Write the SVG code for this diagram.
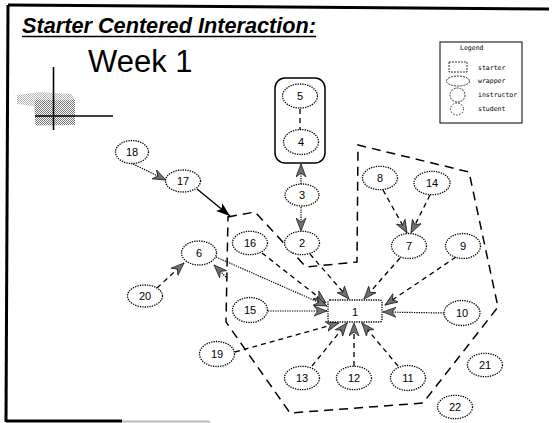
<svg xmlns="http://www.w3.org/2000/svg" width="559" height="423" viewBox="0 0 559 423">
<style>
.node{fill:#fff;stroke:#000;stroke-width:1.3;stroke-dasharray:1.3 1.1}
.lbl{font-family:"Liberation Sans",Arial,sans-serif;font-size:11px;text-anchor:middle;fill:#000}
.dash{stroke:#000;stroke-width:1.3;stroke-dasharray:5 4;fill:none}
.dot{stroke:#000;stroke-width:1.2;stroke-dasharray:1.3 1.1;fill:none}
.poly{stroke:#000;stroke-width:1.5;stroke-dasharray:9 6;fill:none}
.leg{font-family:"DejaVu Sans Mono","Liberation Mono",monospace;font-size:6.5px;fill:#000}
.frame{stroke:#000;stroke-width:3;fill:none}
</style>
<defs>
<pattern id="dither" width="2" height="2" patternUnits="userSpaceOnUse">
<rect width="2" height="2" fill="#fff"/><rect width="1" height="1" fill="#000"/><rect x="1" y="1" width="1" height="1" fill="#000"/>
</pattern>
<marker id="ah" markerUnits="userSpaceOnUse" markerWidth="15" markerHeight="11" refX="13" refY="5.5" orient="auto">
<path d="M0,0.5 L13,5.5 L0,10.5 L4,5.5 Z" fill="#707070" stroke="#222" stroke-width="0.8"/>
</marker>
<marker id="as" markerUnits="userSpaceOnUse" markerWidth="15" markerHeight="11" refX="14" refY="5.5" orient="auto">
<path d="M0,0.5 L14,5.5 L0,10.5 L3,5.5 Z" fill="#000"/>
</marker>
</defs>
<rect width="559" height="423" fill="#fff"/>

<g id="frame">
<line class="frame" x1="8" y1="5" x2="549" y2="9"/>
<line class="frame" x1="8" y1="5" x2="6" y2="422"/>
<line class="frame" x1="6" y1="421" x2="122" y2="421"/>
<line x1="122" y1="421.5" x2="210" y2="421.5" stroke="#bbb" stroke-width="2"/>
</g>

<g id="title">
<text x="22" y="33" font-family="'Liberation Sans',Arial,sans-serif" font-size="21.5" font-weight="bold" font-style="italic" textLength="294" lengthAdjust="spacingAndGlyphs">Starter Centered Interaction:</text>
<line x1="22" y1="36.5" x2="316" y2="36.5" stroke="#000" stroke-width="1.6"/>
<text x="88" y="72" font-family="'Liberation Sans',Arial,sans-serif" font-size="31">Week 1</text>
</g>

<g id="crosshair">
<polygon points="17,95 40,92 72,94 75,100 75,125 36,126 34,106 17,104" fill="url(#dither)" opacity="0.3"/>
<rect x="35" y="100" width="40" height="25" fill="url(#dither)" opacity="0.35"/>
<line x1="53.5" y1="67" x2="53.5" y2="130" stroke="#000" stroke-width="1.6"/>
<line x1="35" y1="116" x2="113" y2="116" stroke="#000" stroke-width="1.6"/>
</g>

<g id="legend">
<rect x="440" y="42" width="82" height="81" fill="#fff" stroke="#000" stroke-width="1"/>
<text class="leg" x="460" y="50">Legend</text>
<rect x="449" y="62" width="18" height="10" fill="none" stroke="#000" stroke-width="0.8" stroke-dasharray="2 1"/>
<text class="leg" x="478" y="70">starter</text>
<ellipse cx="458" cy="81" rx="11.5" ry="5" fill="none" stroke="#000" stroke-width="0.8" stroke-dasharray="2 1"/>
<text class="leg" x="478" y="83">wrapper</text>
<ellipse cx="457.5" cy="95" rx="7.5" ry="7" fill="none" stroke="#000" stroke-width="0.8" stroke-dasharray="2 1"/>
<text class="leg" x="478" y="97">instructor</text>
<ellipse cx="457" cy="109" rx="6.5" ry="6" fill="none" stroke="#000" stroke-width="0.8" stroke-dasharray="1.5 1.5"/>
<text class="leg" x="478" y="111">student</text>
</g>

<g id="boundary">
<path class="poly" d="M228,217 L255,212 L306,267 L357,262 L358,145 L469,172 L498,307 L423,403 L290,413 L226,322 Z"/>
</g>

<g id="wrapper-5-4">
<rect x="275" y="78" width="50" height="85" rx="10" fill="#fff" stroke="#000" stroke-width="1.5"/>
</g>

<g id="connectors">
<line class="dash" x1="300" y1="109" x2="300" y2="130"/>
<line class="dot" x1="131" y1="163" x2="166" y2="180" marker-end="url(#ah)"/>
<line x1="197" y1="189" x2="230" y2="216" stroke="#000" stroke-width="1.4" marker-end="url(#as)"/>
<line class="dot" x1="301" y1="184" x2="301" y2="164" marker-end="url(#ah)"/>
<line class="dot" x1="301" y1="207" x2="301" y2="231" marker-end="url(#ah)"/>
<line class="dash" x1="383" y1="190" x2="407" y2="233" marker-end="url(#ah)"/>
<line class="dash" x1="430" y1="195" x2="411" y2="233" marker-end="url(#ah)"/>
<line class="dash" x1="400" y1="258" x2="364" y2="299" marker-end="url(#ah)"/>
<line class="dash" x1="456" y1="257" x2="385" y2="305" marker-end="url(#ah)"/>
<line class="dot" x1="444" y1="313" x2="383" y2="312" marker-end="url(#ah)"/>
<line class="dash" x1="310" y1="254" x2="349" y2="299" marker-end="url(#ah)"/>
<line class="dash" x1="262" y1="253" x2="326" y2="303" marker-end="url(#ah)"/>
<line class="dot" x1="216" y1="257" x2="327" y2="306" marker-end="url(#ah)"/>
<line class="dot" x1="268" y1="311" x2="327" y2="311" marker-end="url(#ah)"/>
<line class="dash" x1="235" y1="352" x2="339" y2="323" marker-end="url(#ah)"/>
<line class="dash" x1="312" y1="366" x2="347" y2="323" marker-end="url(#ah)"/>
<line class="dash" x1="354" y1="366" x2="354" y2="323" marker-end="url(#ah)"/>
<line class="dash" x1="398" y1="366" x2="362" y2="323" marker-end="url(#ah)"/>
<line class="dash" x1="157" y1="288" x2="184" y2="263" marker-end="url(#ah)"/>
<line class="dot" x1="226" y1="277" x2="214" y2="265" marker-end="url(#ah)"/>
</g>

<g id="n1"><rect x="328" y="300" width="54" height="22" rx="2" fill="#fff" stroke="#000" stroke-width="1.3" stroke-dasharray="1.3 1.1"/><text class="lbl" x="355" y="315.5">1</text></g>
<g id="n2"><ellipse class="node" cx="302" cy="243" rx="17.5" ry="11.7"/><text class="lbl" x="302" y="247">2</text></g>
<g id="n3"><ellipse class="node" cx="302" cy="195" rx="17" ry="11"/><text class="lbl" x="302" y="199">3</text></g>
<g id="n4"><ellipse class="node" cx="301" cy="142" rx="17.5" ry="12.5"/><text class="lbl" x="301" y="146">4</text></g>
<g id="n5"><ellipse class="node" cx="300" cy="96" rx="17.5" ry="12"/><text class="lbl" x="300" y="100">5</text></g>
<g id="n6"><ellipse class="node" cx="199" cy="253" rx="17.5" ry="12"/><text class="lbl" x="199" y="257">6</text></g>
<g id="n7"><ellipse class="node" cx="409" cy="246" rx="17.5" ry="12.5"/><text class="lbl" x="409" y="250">7</text></g>
<g id="n8"><ellipse class="node" cx="380" cy="178" rx="17.5" ry="11.7"/><text class="lbl" x="380" y="182">8</text></g>
<g id="n9"><ellipse class="node" cx="463" cy="246" rx="17.5" ry="12.5"/><text class="lbl" x="463" y="250">9</text></g>
<g id="n10"><ellipse class="node" cx="462" cy="313" rx="18" ry="12.5"/><text class="lbl" x="462" y="317">10</text></g>
<g id="n11"><ellipse class="node" cx="408" cy="378" rx="17.5" ry="12.5"/><text class="lbl" x="408" y="382">11</text></g>
<g id="n12"><ellipse class="node" cx="354" cy="378" rx="17.5" ry="11.7"/><text class="lbl" x="354" y="382">12</text></g>
<g id="n13"><ellipse class="node" cx="302" cy="378" rx="17.5" ry="11.7"/><text class="lbl" x="302" y="382">13</text></g>
<g id="n14"><ellipse class="node" cx="432" cy="183" rx="18" ry="11.7"/><text class="lbl" x="432" y="187">14</text></g>
<g id="n15"><ellipse class="node" cx="250" cy="310" rx="17.5" ry="12.5"/><text class="lbl" x="250" y="314">15</text></g>
<g id="n16"><ellipse class="node" cx="250" cy="243" rx="17.5" ry="11.7"/><text class="lbl" x="250" y="247">16</text></g>
<g id="n17"><ellipse class="node" cx="183" cy="181" rx="17.5" ry="11"/><text class="lbl" x="183" y="185">17</text></g>
<g id="n18"><ellipse class="node" cx="132" cy="152" rx="16.5" ry="11.5"/><text class="lbl" x="132" y="156">18</text></g>
<g id="n19"><ellipse class="node" cx="217" cy="354" rx="17.5" ry="12.5"/><text class="lbl" x="217" y="358">19</text></g>
<g id="n20"><ellipse class="node" cx="145" cy="296" rx="17.5" ry="11"/><text class="lbl" x="145" y="300">20</text></g>
<g id="n21"><ellipse class="node" cx="485" cy="365" rx="17.5" ry="11.7"/><text class="lbl" x="485" y="369">21</text></g>
<g id="n22"><ellipse class="node" cx="455" cy="407" rx="17.5" ry="11.7"/><text class="lbl" x="455" y="411">22</text></g>
</svg>
